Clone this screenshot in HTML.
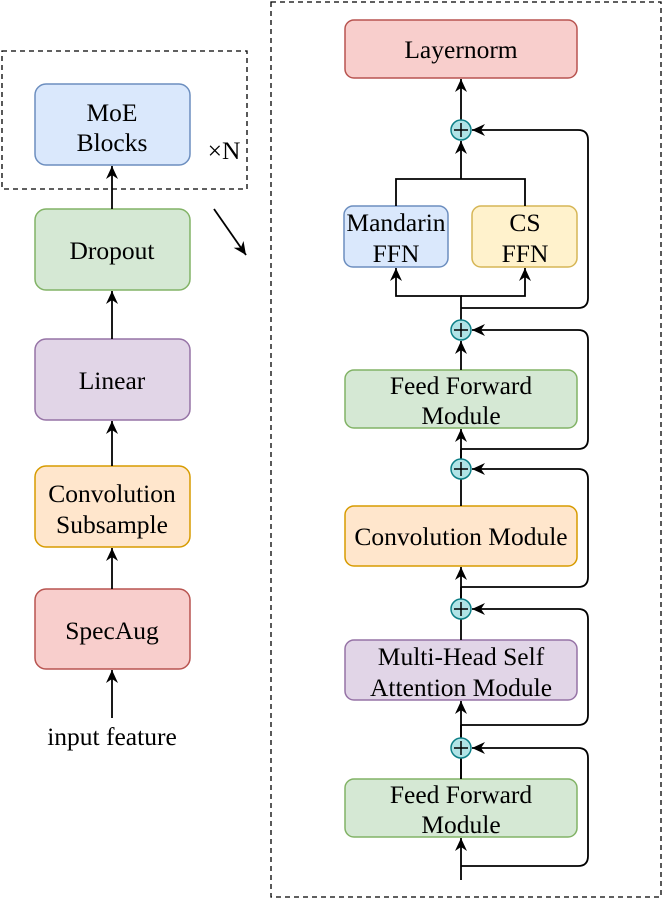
<!DOCTYPE html>
<html><head><style>body{margin:0;background:#fff}svg{display:block}text{font-family:"Liberation Serif",serif;font-size:25.5px;fill:#000;text-anchor:middle}</style></head>
<body>
<svg width="665" height="902" viewBox="0 0 665 902">
<defs><marker id="a" markerWidth="14" markerHeight="14" refX="13" refY="6" orient="auto" markerUnits="userSpaceOnUse"><path d="M0,0 L13,6 L0,12 L4,6 z" fill="#000"/></marker></defs>
<g fill="none" stroke="#000" stroke-width="1.3" stroke-dasharray="5,4">
<rect x="2" y="51" width="245" height="138"/>
<rect x="271" y="2" width="390" height="895"/>
</g>
<g stroke-width="1.5">
<rect x="35" y="84" width="155" height="81" rx="11" fill="#dae8fc" stroke="#6c8ebf"/>
<rect x="35" y="209" width="155" height="81" rx="11" fill="#d5e8d4" stroke="#82b366"/>
<rect x="35" y="339" width="155" height="81" rx="11" fill="#e1d5e7" stroke="#9673a6"/>
<rect x="35" y="466" width="155" height="81" rx="11" fill="#ffe6cc" stroke="#d79b00"/>
<rect x="35" y="589" width="155" height="80" rx="11" fill="#f8cecc" stroke="#b85450"/>
<rect x="345" y="20" width="232" height="58" rx="9" fill="#f8cecc" stroke="#b85450"/>
<rect x="344" y="206" width="104" height="61" rx="9" fill="#dae8fc" stroke="#6c8ebf"/>
<rect x="472" y="206" width="105" height="61" rx="9" fill="#fff2cc" stroke="#d6b656"/>
<rect x="345" y="370" width="232" height="58" rx="9" fill="#d5e8d4" stroke="#82b366"/>
<rect x="345" y="506" width="232" height="60" rx="9" fill="#ffe6cc" stroke="#d79b00"/>
<rect x="345" y="640" width="232" height="60" rx="9" fill="#e1d5e7" stroke="#9673a6"/>
<rect x="345" y="779" width="232" height="58" rx="9" fill="#d5e8d4" stroke="#82b366"/>
</g>
<g fill="none" stroke="#000" stroke-width="1.8" marker-end="url(#a)">
<line x1="112" y1="209" x2="112" y2="166"/>
<line x1="112" y1="339" x2="112" y2="291"/>
<line x1="112" y1="466" x2="112" y2="421"/>
<line x1="112" y1="589" x2="112" y2="548"/>
<line x1="112" y1="718" x2="112" y2="670"/>
<line x1="214" y1="209" x2="246" y2="255"/>
<line x1="461" y1="120" x2="461" y2="79"/>
<path d="M396,206 V179 H525 V206 M461,179 V141"/>
<path d="M461,320 V296 H396 V268"/>
<path d="M461,296 H525 V268"/>
<line x1="461" y1="370" x2="461" y2="341"/>
<line x1="461" y1="506" x2="461" y2="429"/>
<line x1="461" y1="640" x2="461" y2="567"/>
<line x1="461" y1="779" x2="461" y2="701"/>
<line x1="461" y1="880" x2="461" y2="838"/>
<path d="M461,308 H578 Q588,308 588,298 V140 Q588,130 578,130 H472"/>
<path d="M461,449 H578 Q588,449 588,439 V340 Q588,330 578,330 H472"/>
<path d="M461,587 H578 Q588,587 588,577 V479 Q588,469 578,469 H472"/>
<path d="M461,725 H578 Q588,725 588,715 V619 Q588,609 578,609 H472"/>
<path d="M461,866 H578 Q588,866 588,856 V758 Q588,748 578,748 H472"/>
</g>
<g stroke="#000" stroke-width="1.8"><line x1="461" y1="459" x2="461" y2="449"/><line x1="461" y1="599" x2="461" y2="587"/><line x1="461" y1="738" x2="461" y2="725"/><line x1="461" y1="779" x2="461" y2="758"/></g>
<g fill="#b0e3e6" stroke="#0e8088" stroke-width="1.5">
<circle cx="461" cy="130" r="10"/><circle cx="461" cy="330" r="10"/><circle cx="461" cy="469" r="10"/><circle cx="461" cy="609" r="10"/><circle cx="461" cy="748" r="10"/>
</g>
<g stroke="#000" stroke-width="1.5">
<path d="M454,130H468M461,123V137"/><path d="M454,330H468M461,323V337"/><path d="M454,469H468M461,462V476"/><path d="M454,609H468M461,602V616"/><path d="M454,748H468M461,741V755"/>
</g>
<text x="112" y="121">MoE</text><text x="112" y="151">Blocks</text>
<text x="224" y="159">×N</text>
<text x="112" y="259">Dropout</text>
<text x="112" y="389">Linear</text>
<text x="112" y="502">Convolution</text><text x="112" y="533">Subsample</text>
<text x="112" y="639">SpecAug</text>
<text x="112" y="745">input feature</text>
<text x="461" y="58">Layernorm</text>
<text x="396" y="231">Mandarin</text><text x="396" y="262">FFN</text>
<text x="525" y="231">CS</text><text x="525" y="262">FFN</text>
<text x="461" y="394">Feed Forward</text><text x="461" y="424">Module</text>
<text x="461" y="545">Convolution Module</text>
<text x="461" y="665">Multi-Head Self</text><text x="461" y="696">Attention Module</text>
<text x="461" y="803">Feed Forward</text><text x="461" y="833">Module</text>
</svg>
</body></html>
